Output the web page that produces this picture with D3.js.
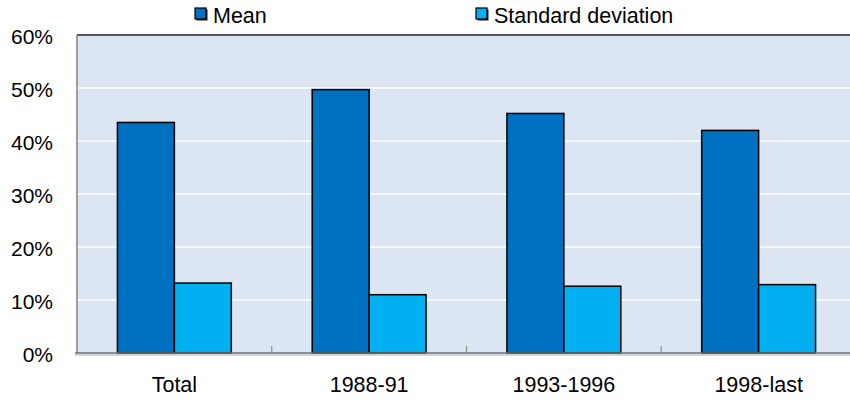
<!DOCTYPE html>
<html>
<head>
<meta charset="utf-8">
<script src="https://cdn.jsdelivr.net/npm/d3@7/dist/d3.min.js"></script>
<style>
  body { margin: 0; background: #fff; }
  svg { display: block; font-family: "Liberation Sans", Arial, sans-serif; }
</style>
</head>
<body>
<svg id="chart" width="850" height="403"></svg>
<script>
// Chart data
const categories = ["Total", "1988-91", "1993-1996", "1998-last"];
const seriesNames = ["Mean", "Standard deviation"];
const meanValues = [43.5, 49.7, 45.2, 42.0];
const sdValues = [13.2, 11.0, 12.6, 12.9];
const yTicks = [0, 10, 20, 30, 40, 50, 60];
const seriesColors = ["#0070C0", "#00B0F0"];

const svg = d3.select("#chart");
const margin = { left: 77, right: -6, top: 35, bottom: 50 };
const W = 850, H = 403;
const plotRight = W - margin.right;
const plotBottom = H - margin.bottom;
const fontFamily = "'Liberation Sans', Arial, sans-serif";

const x = d3.scaleBand().domain(categories).range([margin.left, plotRight]).paddingInner(0).paddingOuter(0);
const x1 = d3.scaleBand().domain(seriesNames).range([0, x.bandwidth()]).paddingInner(0).paddingOuter(0.71);
const y = d3.scaleLinear().domain([0, 60]).range([plotBottom, margin.top]);

// plot background
svg.append("rect")
  .attr("x", margin.left).attr("y", margin.top)
  .attr("width", plotRight - margin.left).attr("height", plotBottom - margin.top)
  .attr("fill", "#DCE6F2");

// horizontal gridlines
svg.append("g").selectAll("line").data(yTicks.filter(t => t > 0 && t < 60)).join("line")
  .attr("x1", margin.left).attr("x2", plotRight)
  .attr("y1", d => y(d)).attr("y2", d => y(d))
  .attr("stroke", "#ffffff").attr("stroke-width", 1.5);

// top border
svg.append("line")
  .attr("x1", margin.left).attr("x2", plotRight)
  .attr("y1", margin.top).attr("y2", margin.top)
  .attr("stroke", "#222").attr("stroke-width", 1.5);

// left axis line
svg.append("line")
  .attr("x1", margin.left).attr("x2", margin.left)
  .attr("y1", margin.top).attr("y2", plotBottom)
  .attr("stroke", "#808080").attr("stroke-width", 1.5);

// y axis labels
const yAxis = d3.axisLeft(y).tickValues(yTicks).tickFormat(d => d + "%").tickSize(0).tickPadding(24);
const gy = svg.append("g").attr("transform", `translate(${margin.left},0)`).call(yAxis);
gy.select(".domain").remove();
gy.selectAll("text").attr("font-size", 21).attr("fill", "#000")
  .attr("font-family", fontFamily).attr("dy", "0.42em");

// bars
const rows = categories.map((c, i) => ({ cat: c, vals: [meanValues[i], sdValues[i]] }));
const groups = svg.append("g").selectAll("g").data(rows).join("g")
  .attr("transform", d => `translate(${x(d.cat)},0)`);
groups.selectAll("rect").data(d => d.vals.map((v, j) => ({ name: seriesNames[j], v, j }))).join("rect")
  .attr("x", d => x1(d.name))
  .attr("y", d => y(d.v))
  .attr("width", x1.bandwidth())
  .attr("height", d => y(0) - y(d.v))
  .attr("fill", d => seriesColors[d.j])
  .attr("stroke", "#000").attr("stroke-width", 1.5);

// x axis line with light shadow below
svg.append("line")
  .attr("x1", margin.left - 2).attr("x2", plotRight)
  .attr("y1", plotBottom + 2).attr("y2", plotBottom + 2)
  .attr("stroke", "#d0d4da").attr("stroke-width", 2);
svg.append("line")
  .attr("x1", margin.left - 2).attr("x2", plotRight)
  .attr("y1", plotBottom).attr("y2", plotBottom)
  .attr("stroke", "#6e6e6e").attr("stroke-width", 1.5);

// category separators
svg.append("g").selectAll("line").data(categories.slice(1)).join("line")
  .attr("x1", d => x(d)).attr("x2", d => x(d))
  .attr("y1", plotBottom - 7).attr("y2", plotBottom)
  .attr("stroke", "#909090").attr("stroke-width", 1.2);

// category labels
const xAxis = d3.axisBottom(x).tickSize(0).tickPadding(24);
const gx = svg.append("g").attr("transform", `translate(0,${plotBottom})`).call(xAxis);
gx.select(".domain").remove();
gx.selectAll("text").attr("font-size", 21.5).attr("fill", "#000")
  .attr("font-family", fontFamily);

// legend
const legendX = [195, 476];
const legend = svg.append("g").selectAll("g").data(seriesNames).join("g")
  .attr("transform", (d, i) => `translate(${legendX[i]},8)`);
legend.append("rect").attr("x", 1.5).attr("y", 1.5).attr("width", 11).attr("height", 11).attr("fill", "#1a1a1a");
legend.append("rect").attr("x", 0).attr("y", 0).attr("width", 11).attr("height", 11)
  .attr("fill", (d, i) => seriesColors[i]).attr("stroke", "#000").attr("stroke-width", 1.2);
legend.append("text").attr("x", 18).attr("y", 14.7).text(d => d)
  .attr("font-size", 21.5).attr("fill", "#000").attr("font-family", fontFamily);
</script>
</body>
</html>
